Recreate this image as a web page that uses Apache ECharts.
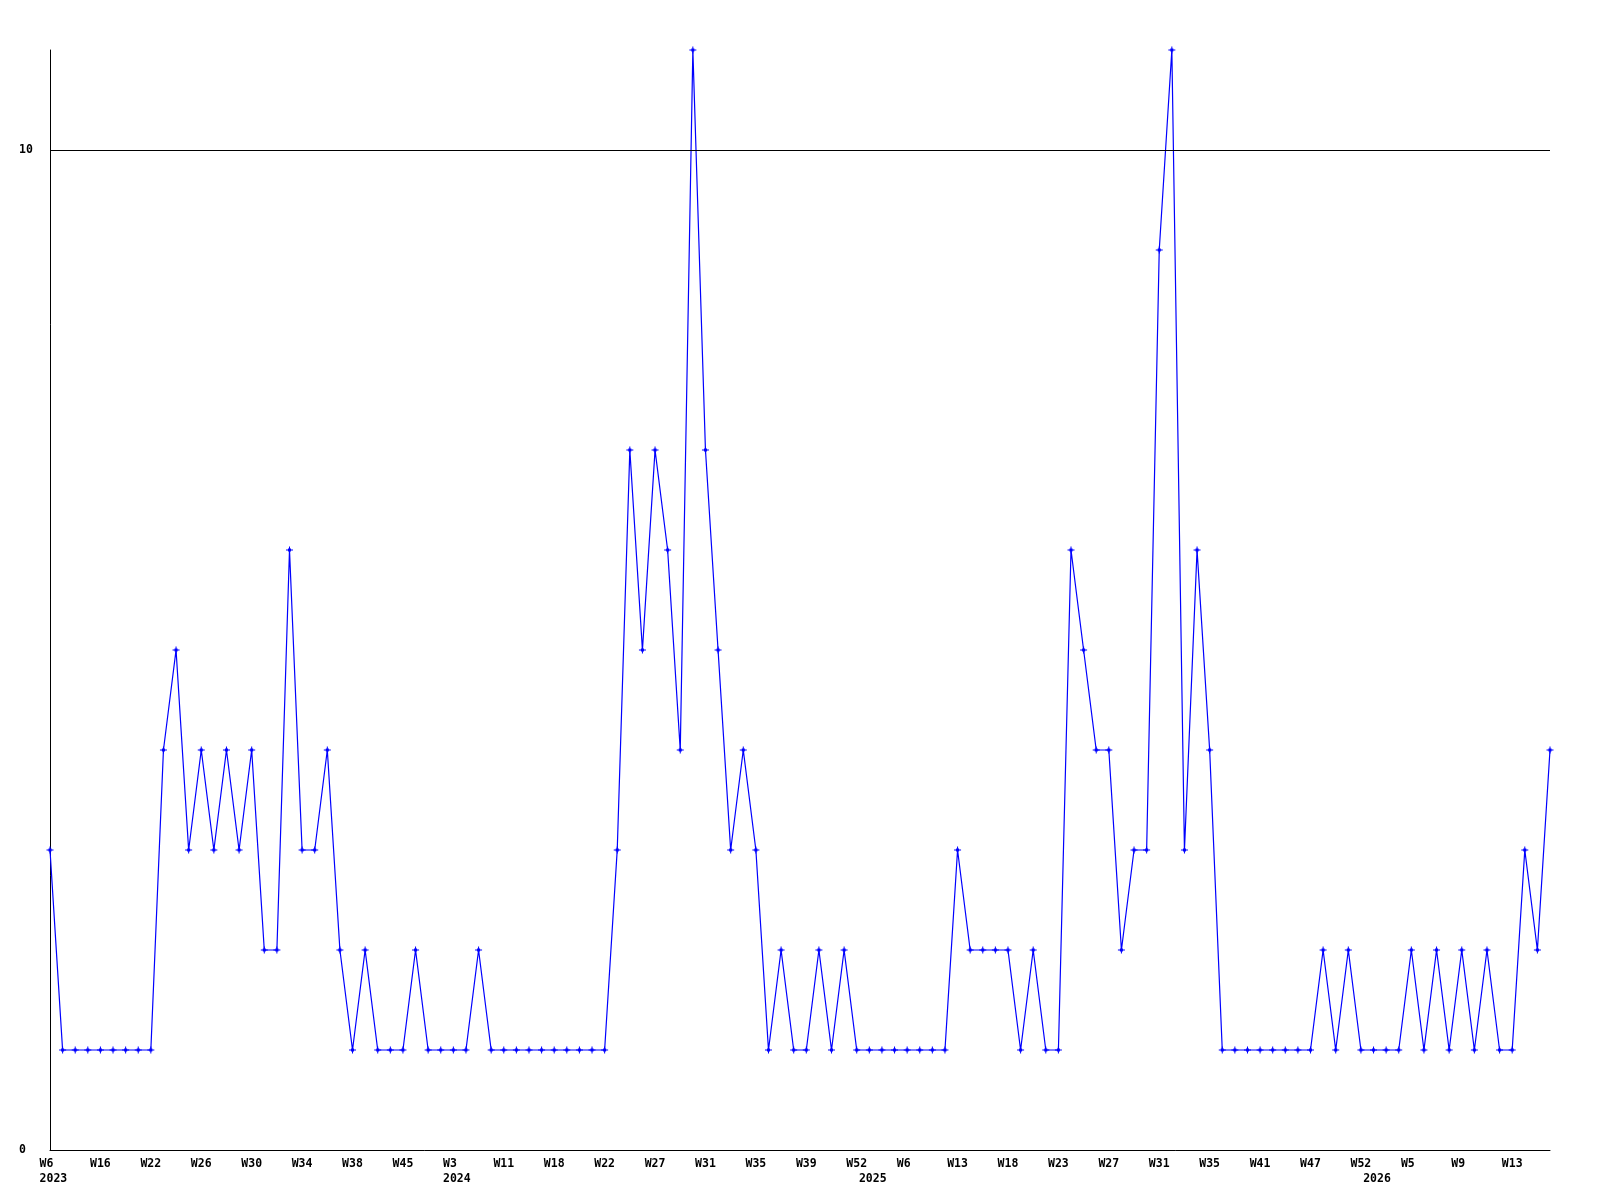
<!DOCTYPE html>
<html><head><meta charset="utf-8">
<script src="https://cdn.jsdelivr.net/npm/echarts@6/dist/echarts.min.js"></script>
<style>html,body{margin:0;padding:0;background:#fff}#c{width:1600px;height:1200px}</style>
</head><body><div id="c"></div>
<script>
// ISO week numbers of each data point (year rolls over when the week number drops)
const firstYear = 2023;
const weeks = [6,8,10,13,16,17,19,20,22,23,24,25,26,27,28,29,30,31,32,33,34,35,36,37,38,40,42,43,45,46,48,50,
  3,5,7,9,11,13,14,16,18,19,20,21,22,23,24,25,27,28,29,30,31,32,33,34,35,36,37,38,39,41,45,48,52,
  1,3,4,6,8,10,11,13,14,15,16,18,19,20,22,23,24,25,26,27,28,29,30,31,32,33,34,35,36,37,38,41,42,43,45,47,48,49,51,52,
  1,2,4,5,6,7,8,9,10,11,12,13,14,15,16];
const counts = [3,1,1,1,1,1,1,1,1,4,
  5,3,4,3,4,3,4,2,2,6,
  3,3,4,2,1,2,1,1,1,2,
  1,1,1,1,2,1,1,1,1,1,
  1,1,1,1,1,3,7,5,7,6,
  4,11,7,5,3,4,3,1,2,1,
  1,2,1,2,1,1,1,1,1,1,
  1,1,3,2,2,2,2,1,2,1,
  1,6,5,4,4,2,3,3,9,11,
  3,6,4,1,1,1,1,1,1,1,
  1,2,1,2,1,1,1,1,2,1,
  2,1,2,1,2,1,1,3,2,4];
const yTicks = [0, 10];

const years = [];
let y = firstYear;
weeks.forEach((w, i) => { if (i > 0 && w < weeks[i - 1]) y++; years.push(y); });
const categories = weeks.map((w, i) => years[i] + '-W' + w);
const isYearStart = i => i === 0 || years[i] !== years[i - 1];

const font = {fontFamily: 'DejaVu Sans Mono', fontWeight: 'bold', fontSize: 11.5, color: '#000'};
const chart = echarts.init(document.getElementById('c'));
chart.setOption({
  animation: false,
  backgroundColor: '#fff',
  grid: [
    {left: 50, right: 50, top: 50, bottom: 50},
    {left: 39.6, right: 60.4, top: 50, bottom: 50}
  ],
  xAxis: [
    {type: 'category', gridIndex: 0, data: categories, boundaryGap: false,
     axisLine: {lineStyle: {color: '#000', width: 1}}, axisTick: {show: false},
     axisLabel: {show: false}, splitLine: {show: false}},
    {type: 'category', gridIndex: 1, data: categories, boundaryGap: false,
     axisLine: {show: false}, axisTick: {show: false}, splitLine: {show: false},
     axisLabel: Object.assign({
       interval: (i) => i % 4 === 0 || isYearStart(i),
       align: 'left', verticalAlign: 'top', margin: 6, lineHeight: 15.3,
       formatter: (v, i) => (i % 4 === 0 ? 'W' + weeks[i] : ' ') + '\n' + (isYearStart(i) ? years[i] : ' ')
     }, font)}
  ],
  yAxis: [
    {type: 'value', gridIndex: 0, min: 0, max: 11, interval: 10,
     axisLine: {show: true, lineStyle: {color: '#000', width: 1}}, axisTick: {show: false},
     splitLine: {show: false},
     axisLabel: Object.assign({align: 'left', margin: 31,
       formatter: v => yTicks.indexOf(v) >= 0 ? String(v) : ''}, font)},
    {type: 'value', gridIndex: 1, min: 0, max: 11, show: false}
  ],
  series: [
    {type: 'line', xAxisIndex: 0, yAxisIndex: 0, data: [], z: 1, silent: true,
     markLine: {silent: true, symbol: 'none', label: {show: false},
       lineStyle: {color: '#000', width: 1, type: 'solid'},
       data: yTicks.filter(t => t > 0).map(t => ({yAxis: t}))}},
    {type: 'line', xAxisIndex: 0, yAxisIndex: 0, data: counts, z: 3, clip: false,
     symbol: 'path://M3,0H4V2H5V3H7V4H5V5H4V7H3V5H2V4H0V3H2V2H3Z', symbolSize: 7, showAllSymbol: true,
     itemStyle: {color: '#0000ff'}, lineStyle: {color: '#0000ff', width: 1.2}}
  ]
});
</script></body></html>
